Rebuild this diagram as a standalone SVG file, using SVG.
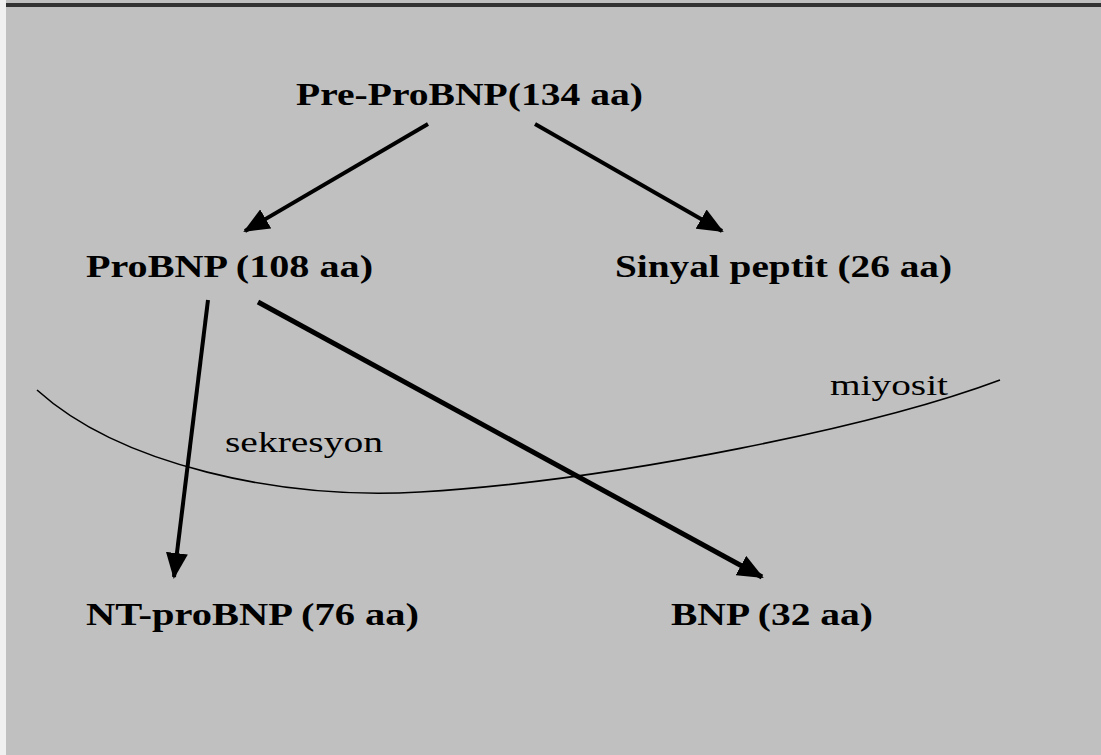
<svg xmlns="http://www.w3.org/2000/svg" width="1101" height="755" viewBox="0 0 1101 755">
<style>
.bold{font-family:"Liberation Serif","Times New Roman",serif;font-weight:bold;font-size:32px;fill:#000}
.reg{font-family:"Liberation Serif","Times New Roman",serif;font-size:29px;fill:#000}
.arr{stroke:#000;stroke-width:4;fill:none;marker-end:url(#ah)}
</style>
<defs>
<marker id="ah" markerUnits="userSpaceOnUse" markerWidth="26" markerHeight="22" refX="24" refY="11" orient="auto">
<path d="M0,0 L26,11 L0,22 z" fill="#000"/>
</marker>
</defs>
<rect x="0" y="0" width="1101" height="755" fill="#C0C0C0"/>
<rect x="0" y="0" width="6" height="755" fill="#F0F0F0"/>
<rect x="6" y="3" width="1095" height="4" fill="#333"/>
<g id="connectors">
<line class="arr" x1="428" y1="124" x2="245" y2="231"/>
<line class="arr" x1="535" y1="124" x2="722" y2="231"/>
<line class="arr" x1="208" y1="300" x2="174" y2="577"/>
<line class="arr" x1="258" y1="302" x2="762" y2="577" style="stroke-width:5"/>
</g>
<g id="membrane">
<path d="M37,390 C120,465 280,500 420,492 C620,480 880,425 1000,380" fill="none" stroke="#000" stroke-width="1.6"/>
</g>
<g id="node-preprobnp"><text class="bold" x="296" y="105" textLength="347" lengthAdjust="spacingAndGlyphs">Pre-ProBNP(134 aa)</text></g>
<g id="node-probnp"><text class="bold" x="86" y="277" textLength="287" lengthAdjust="spacingAndGlyphs">ProBNP (108 aa)</text></g>
<g id="node-sinyal"><text class="bold" x="615" y="277" textLength="337" lengthAdjust="spacingAndGlyphs">Sinyal peptit (26 aa)</text></g>
<g id="node-ntprobnp"><text class="bold" x="86" y="625" textLength="333" lengthAdjust="spacingAndGlyphs">NT-proBNP (76 aa)</text></g>
<g id="node-bnp"><text class="bold" x="671" y="625" textLength="202" lengthAdjust="spacingAndGlyphs">BNP (32 aa)</text></g>
<g id="label-sekresyon"><text class="reg" x="225" y="452" textLength="158" lengthAdjust="spacingAndGlyphs">sekresyon</text></g>
<g id="label-miyosit"><text class="reg" x="830" y="395" textLength="118" lengthAdjust="spacingAndGlyphs">miyosit</text></g>
</svg>
